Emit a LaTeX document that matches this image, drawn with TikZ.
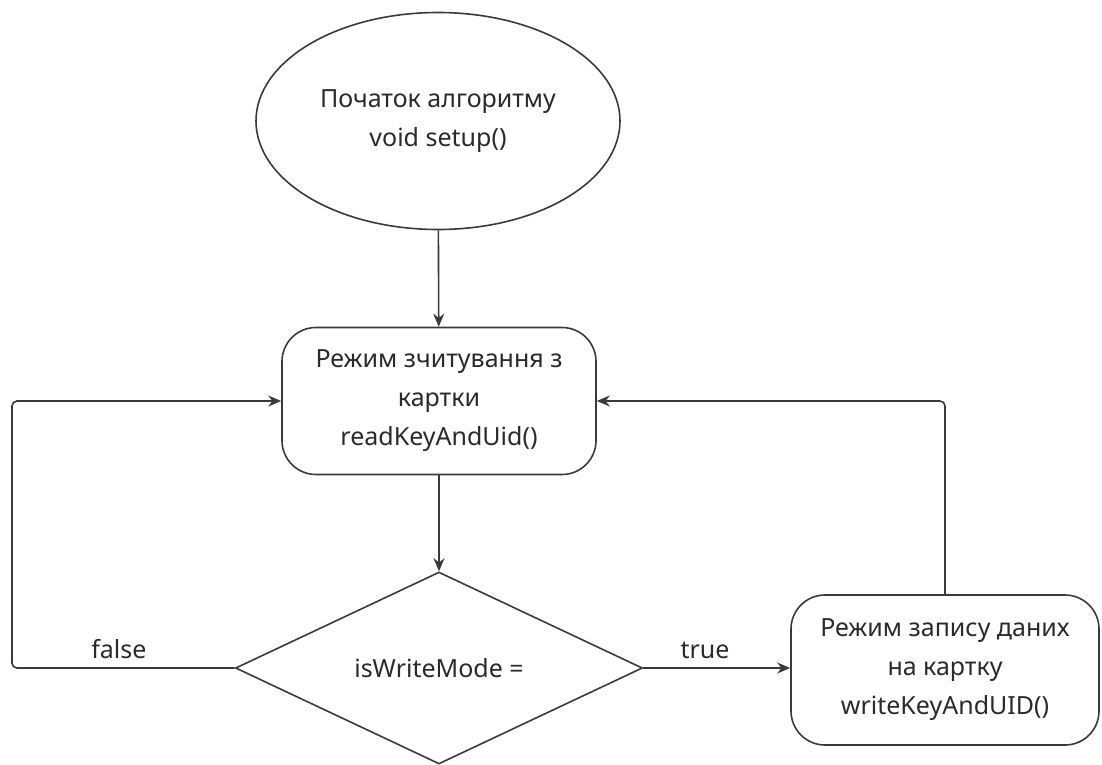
\documentclass[tikz,border=0pt]{standalone}
\usepackage{fontspec}
\setmainfont{Noto Sans}
\usetikzlibrary{shapes.geometric,arrows.meta}
\definecolor{linec}{HTML}{3A3A3A}
\definecolor{textc}{HTML}{2A2A2A}
\begin{document}
\begin{tikzpicture}[x=1pt,y=-1pt,
  every node/.style={font=\fontsize{25}{39}\selectfont, text=textc},
  line/.style={draw=linec, line width=1.6pt},
  arr/.style={line, -{Stealth[length=13pt,width=11pt]}, rounded corners=5pt},
  startnode/.style={ellipse, line, minimum width=364pt, minimum height=217pt, inner sep=0pt, align=center},
  procnode/.style={rectangle, rounded corners=34pt, line, align=center, inner sep=0pt},
  decnode/.style={diamond, line, minimum width=407pt, minimum height=192pt, inner sep=0pt, align=center},
  lbl/.style={above=5pt}]
\useasboundingbox (0,0) rectangle (1102,764);
\clip (0,0) rectangle (1102,764);
\node[startnode] (start) at (438,121) {Початок алгоритму\\void setup()};
\node[procnode, minimum width=314pt, minimum height=147pt] (read) at (439,401) {Режим зчитування з\\картки\\readKeyAndUid()};
\node[decnode] (dec) at (439,668) {isWriteMode =};
\node[procnode, minimum width=308pt, minimum height=150pt] (write) at (945,670) {Режим запису даних\\на картку\\writeKeyAndUID()};
\coordinate (lft) at (12,668);
\draw[arr] (start) -- (read);
\draw[arr] (read) -- (dec);
\draw[arr] (dec.east) -- node[pos=0.42, lbl] {true} (write.west |- dec.east);
\draw[arr] (dec.west) -- node[pos=0.52, lbl] {false} (lft) |- (read.west);
\draw[arr] (write.north) |- (read.east);
\end{tikzpicture}
\end{document}
